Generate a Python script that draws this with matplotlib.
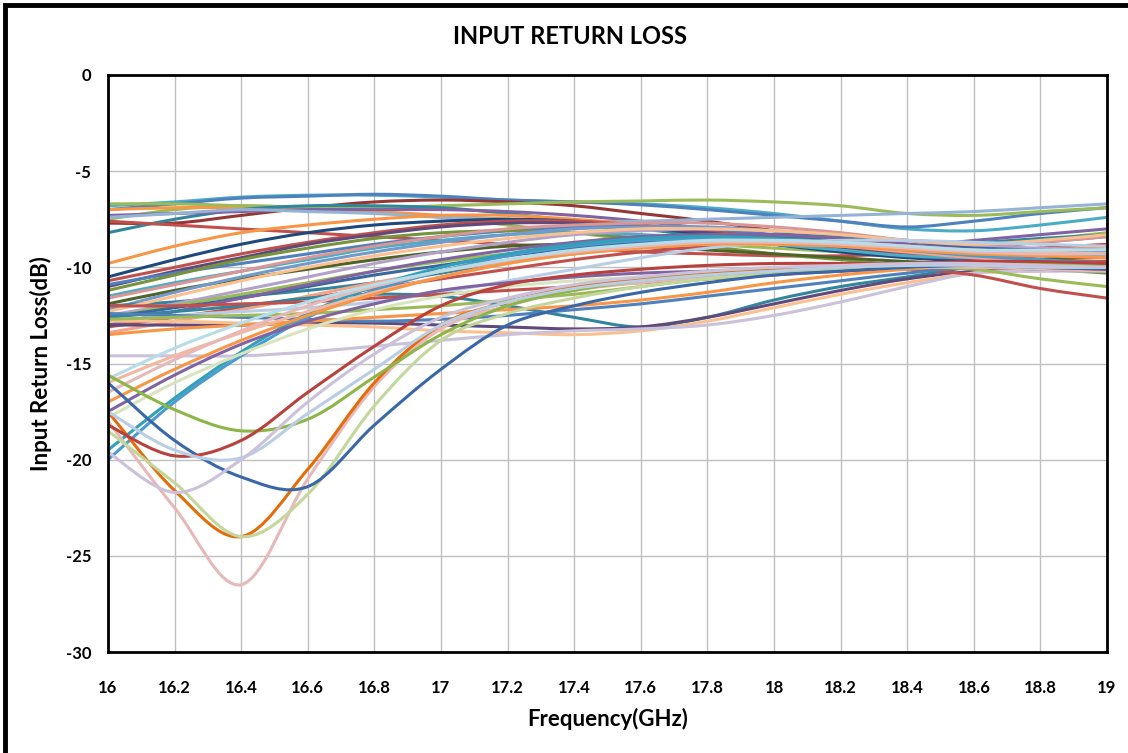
import matplotlib
matplotlib.use('Agg')
import matplotlib.pyplot as plt
import numpy as np
from matplotlib.path import Path
from matplotlib.patches import PathPatch, Rectangle

# frequency points of each sweep (GHz)
freq = [16.0, 16.2, 16.4, 16.6, 16.8, 17.0, 17.2, 17.4,
        17.6, 17.8, 18.0, 18.2, 18.4, 18.6, 18.8, 19.0]

# best matched units, flat near -7 dB
top_curves = [
    [-6.8, -6.6, -6.35, -6.25, -6.25, -6.35, -6.5, -6.6, -6.7, -6.9, -7.2, -7.6, -8.0, -8.1, -7.8, -7.4],
    [-7.0, -6.7, -6.4, -6.3, -6.2, -6.3, -6.5, -6.6, -6.75, -7.0, -7.3, -7.6, -7.9, -7.6, -7.2, -6.9],
    [-7.7, -7.7, -7.3, -6.9, -6.6, -6.5, -6.6, -6.8, -7.2, -7.6, -8.1, -8.6, -9.0, -9.2, -9.4, -9.5],
    [-7.5, -7.0, -6.8, -6.9, -7.1, -7.4, -7.8, -8.2, -8.6, -8.8, -9.0, -9.2, -9.4, -9.1, -8.6, -8.2],
    [-7.0, -6.9, -6.9, -7.0, -7.1, -7.3, -7.5, -7.7, -7.9, -8.2, -8.5, -8.9, -9.3, -9.6, -9.8, -10.0],
    [-6.7, -6.7, -6.8, -6.9, -6.9, -6.8, -6.7, -6.6, -6.55, -6.5, -6.6, -6.8, -7.2, -7.3, -7.1, -6.9],
    [-8.2, -7.5, -7.0, -6.8, -6.8, -6.9, -7.2, -7.6, -8.0, -8.4, -8.8, -9.1, -9.3, -9.0, -8.7, -8.4],
    [-7.3, -7.2, -7.1, -7.0, -7.0, -7.0, -7.1, -7.3, -7.6, -8.0, -8.4, -8.7, -8.9, -8.6, -8.3, -8.0],
    [-7.6, -7.8, -8.0, -8.2, -8.4, -8.6, -8.8, -9.0, -9.2, -9.3, -9.4, -9.4, -9.3, -9.2, -9.0, -8.8],
    [-7.4, -7.2, -7.0, -7.1, -7.2, -7.4, -7.5, -7.6, -7.6, -7.5, -7.4, -7.3, -7.2, -7.1, -6.9, -6.7],
]
top_colors = ['#4BACC6', '#4F81BD', '#953735', '#9BBB59', '#F79646',
              '#9BBB59', '#31859C', '#8064A2', '#C0504D', '#95B3D7']

# units improving with frequency
mid_curves = [
    [-9.8, -8.9, -8.2, -7.8, -7.5, -7.3, -7.3, -7.5, -7.8, -8.2, -8.6, -9.0, -9.3, -9.5, -9.2, -8.9],
    [-10.5, -9.6, -8.8, -8.2, -7.8, -7.6, -7.5, -7.6, -7.9, -8.3, -8.8, -9.2, -9.5, -9.7, -9.9, -10.0],
    [-10.7, -10.0, -9.3, -8.7, -8.2, -7.8, -7.6, -7.6, -7.8, -8.1, -8.5, -8.9, -9.3, -9.5, -9.6, -9.7],
    [-11.0, -10.2, -9.5, -8.8, -8.3, -7.9, -7.7, -7.7, -7.9, -8.2, -8.6, -9.0, -9.4, -9.6, -9.8, -9.9],
    [-10.9, -10.3, -9.8, -9.3, -8.8, -8.4, -8.1, -7.9, -7.9, -8.0, -8.3, -8.6, -8.9, -9.1, -9.3, -9.4],
    [-11.2, -10.4, -9.6, -9.0, -8.5, -8.2, -8.1, -8.2, -8.5, -8.9, -9.3, -9.6, -9.9, -10.0, -10.1, -10.3],
    [-11.5, -10.8, -10.2, -9.6, -9.0, -8.6, -8.3, -8.2, -8.3, -8.5, -8.8, -9.1, -9.4, -9.5, -9.4, -9.2],
    [-11.9, -11.2, -10.6, -10.1, -9.6, -9.2, -8.9, -8.8, -8.9, -9.1, -9.3, -9.5, -9.7, -9.8, -9.6, -9.4],
    [-11.6, -10.9, -10.2, -9.5, -8.9, -8.4, -8.0, -7.8, -7.7, -7.7, -7.9, -8.2, -8.6, -8.9, -8.7, -8.4],
    [-12.2, -11.3, -10.5, -9.8, -9.2, -8.7, -8.3, -8.0, -7.9, -7.9, -8.1, -8.4, -8.8, -9.1, -9.2, -9.3],
    [-12.0, -11.8, -11.5, -11.2, -10.8, -10.3, -9.7, -9.1, -8.7, -8.4, -8.3, -8.4, -8.6, -8.7, -8.5, -8.3],
    [-12.5, -11.9, -11.2, -10.5, -9.8, -9.2, -8.7, -8.3, -8.1, -8.0, -8.1, -8.3, -8.6, -8.9, -9.0, -9.1],
    [-12.6, -12.0, -11.4, -10.8, -10.2, -9.7, -9.3, -9.0, -8.8, -8.7, -8.7, -8.8, -9.0, -9.2, -9.3, -9.4],
    [-12.3, -11.5, -10.7, -10.0, -9.4, -8.9, -8.5, -8.2, -8.0, -8.0, -8.1, -8.3, -8.6, -8.8, -8.6, -8.3],
    [-12.6, -12.1, -11.6, -11.0, -10.4, -9.9, -9.4, -9.0, -8.7, -8.5, -8.5, -8.6, -8.8, -9.0, -9.1, -9.2],
    [-13.0, -12.3, -11.6, -10.9, -10.2, -9.6, -9.1, -8.7, -8.4, -8.3, -8.3, -8.5, -8.8, -9.1, -9.3, -9.5],
    [-13.1, -12.6, -12.1, -11.6, -11.1, -10.6, -10.1, -9.6, -9.2, -8.9, -8.7, -8.7, -8.9, -9.2, -9.6, -10.0],
    [-13.4, -12.8, -12.2, -11.5, -10.8, -10.2, -9.7, -9.3, -9.0, -8.8, -8.8, -8.9, -9.2, -9.5, -9.7, -9.9],
    [-12.8, -12.5, -12.3, -12.1, -11.8, -11.3, -10.7, -10.1, -9.5, -9.0, -8.7, -8.6, -8.6, -8.7, -8.8, -8.9],
]
mid_colors = ['#F79646', '#1F497D', '#C0504D', '#604A7B', '#4F81BD', '#77933C',
              '#4BACC6', '#4F6228', '#D99694', '#729ACA', '#31859C', '#B3A2C7',
              '#9BBB59', '#FAC090', '#3A679C', '#8064A2', '#C0504D', '#F2A48A',
              '#B9CDE5']

# flat responses around -13 dB up to 17.6 GHz
low_curves = [
    [-12.6, -12.3, -12.0, -11.6, -11.4, -11.5, -12.0, -12.6, -13.1, -12.6, -11.7, -11.0, -10.5, -10.0, -10.1, -10.2],
    [-13.0, -13.0, -13.0, -12.9, -12.9, -13.0, -13.1, -13.2, -13.1, -12.6, -11.9, -11.2, -10.6, -10.2, -10.0, -10.0],
    [-12.8, -12.8, -12.9, -13.0, -13.1, -13.3, -13.4, -13.5, -13.3, -12.8, -12.1, -11.4, -10.8, -10.3, -10.2, -10.1],
    [-14.6, -14.6, -14.6, -14.4, -14.1, -13.8, -13.5, -13.3, -13.2, -13.0, -12.5, -11.8, -11.0, -10.3, -10.2, -10.2],
    [-12.0, -12.0, -11.9, -11.8, -11.6, -11.4, -11.2, -11.0, -10.8, -10.6, -10.4, -10.2, -10.1, -10.4, -11.1, -11.6],
    [-12.4, -12.5, -12.6, -12.7, -12.8, -12.7, -12.5, -12.2, -11.9, -11.5, -11.1, -10.7, -10.3, -10.0, -10.1, -10.2],
    [-13.5, -13.2, -13.0, -12.8, -12.6, -12.4, -12.2, -12.0, -11.7, -11.3, -10.8, -10.4, -10.1, -9.9, -10.0, -10.1],
    [-12.7, -12.6, -12.5, -12.4, -12.2, -12.0, -11.7, -11.4, -11.0, -10.6, -10.3, -10.1, -10.0, -10.1, -10.6, -11.0],
]
low_colors = ['#31859C', '#604A7B', '#FAC090', '#CCC1DA', '#C0504D',
              '#4F81BD', '#F79646', '#9BBB59']

# poor match at the low band edge
steep_curves = [
    [-20.0, -17.0, -14.6, -12.6, -11.2, -10.2, -9.4, -8.9, -8.6, -8.5, -8.6, -8.8, -9.1, -9.4, -9.6, -9.8],
    [-19.5, -16.8, -14.4, -12.4, -11.0, -10.0, -9.3, -8.8, -8.5, -8.4, -8.5, -8.7, -9.0, -9.2, -9.3, -9.4],
    [-16.0, -14.6, -13.4, -12.3, -11.3, -10.5, -9.8, -9.3, -8.9, -8.7, -8.6, -8.7, -8.9, -9.1, -9.2, -9.3],
    [-17.0, -15.3, -13.8, -12.5, -11.4, -10.5, -9.8, -9.3, -9.0, -8.8, -8.8, -8.9, -9.1, -9.3, -9.4, -9.5],
    [-17.5, -15.6, -14.0, -12.8, -11.9, -11.2, -10.8, -10.5, -10.3, -10.2, -10.1, -10.0, -9.9, -9.9, -10.0, -10.1],
    [-17.8, -16.0, -14.5, -13.2, -12.2, -11.5, -11.0, -10.7, -10.5, -10.3, -10.2, -10.1, -10.0, -9.9, -9.9, -9.9],
    [-16.5, -14.8, -13.3, -12.0, -11.0, -10.2, -9.6, -9.2, -8.9, -8.7, -8.7, -8.8, -9.0, -9.2, -9.3, -9.3],
    [-15.8, -14.2, -12.9, -11.8, -10.9, -10.2, -9.6, -9.1, -8.8, -8.6, -8.6, -8.7, -8.9, -9.1, -9.1, -9.1],
]
steep_colors = ['#4A9BD0', '#31A0B8', '#F2B8A0', '#F79646', '#8064A2',
                '#D7E4BD', '#E6B9B8', '#B7DEE8']

# units with a resonance dip near 16.4 GHz
dip_curves = [
    [-18.0, -22.5, -26.5, -21.0, -16.2, -13.2, -12.0, -11.2, -10.8, -10.5, -10.3, -10.1, -10.0, -10.0, -10.1, -10.2],
    [-17.5, -21.6, -24.0, -20.5, -16.0, -13.0, -11.8, -11.0, -10.6, -10.3, -10.1, -10.0, -9.9, -9.9, -10.0, -10.1],
    [-18.5, -21.2, -24.0, -21.8, -17.2, -13.8, -12.4, -11.6, -11.0, -10.6, -10.3, -10.1, -10.0, -9.9, -10.0, -10.0],
    [-16.0, -19.0, -20.9, -21.4, -18.2, -15.3, -13.0, -12.0, -11.3, -10.8, -10.4, -10.2, -10.0, -9.9, -10.0, -10.1],
    [-15.6, -17.4, -18.5, -17.9, -15.7, -13.5, -12.0, -11.2, -10.7, -10.4, -10.2, -10.0, -9.9, -9.8, -9.8, -9.9],
    [-18.2, -19.8, -19.0, -16.5, -14.1, -12.0, -10.9, -10.4, -10.1, -9.9, -9.8, -9.8, -9.8, -9.7, -9.7, -9.8],
    [-17.5, -19.5, -19.9, -17.6, -15.3, -13.0, -11.8, -11.1, -10.7, -10.4, -10.2, -10.0, -9.9, -9.9, -10.0, -10.0],
    [-19.6, -21.7, -20.0, -17.0, -14.5, -12.6, -11.6, -10.9, -10.5, -10.2, -10.0, -9.9, -9.8, -9.8, -9.9, -10.0],
]
dip_colors = ['#E6B9B8', '#E46C0A', '#C3D69B', '#3A67A8', '#8DB548',
              '#B8403D', '#B9CDE5', '#CCC1DA']

curves = top_curves + mid_curves + low_curves + steep_curves + dip_curves
colors = top_colors + mid_colors + low_colors + steep_colors + dip_colors


def smooth_path(xs, ys):
    # cubic bezier through the points, like a spreadsheet "smoothed line"
    pts = np.column_stack([xs, ys]).astype(float)
    ext = np.vstack([pts[0], pts, pts[-1]])
    verts = [pts[0]]
    codes = [Path.MOVETO]
    for i in range(len(pts) - 1):
        p0, p1, p2, p3 = ext[i], ext[i + 1], ext[i + 2], ext[i + 3]
        verts += [p1 + (p2 - p0) / 6, p2 - (p3 - p1) / 6, p2]
        codes += [Path.CURVE4] * 3
    return Path(verts, codes)


plt.rcParams['font.family'] = ['Lato', 'DejaVu Sans']
plt.rcParams['font.weight'] = 'bold'
plt.rcParams['axes.unicode_minus'] = False

fig = plt.figure(figsize=(11.28, 7.53), dpi=100)
ax = fig.add_axes([0.0957, 0.1341, 0.8857, 0.7663])

for ys, c in zip(curves, colors):
    ax.add_patch(PathPatch(smooth_path(freq, ys), fill=False, edgecolor=c,
                           linewidth=2.2, zorder=3))

ax.set_xlim(16, 19)
ax.set_ylim(-30, 0)
ax.set_xticks(freq)
ax.set_xticklabels(['%g' % f for f in freq])
ax.set_yticks([0, -5, -10, -15, -20, -25, -30])
ax.grid(True, color='#BFBFBF', linewidth=1.0, zorder=0)
ax.tick_params(length=0, labelsize=12)
ax.tick_params(axis='x', pad=20)
ax.tick_params(axis='y', pad=12)
for s in ax.spines.values():
    s.set_linewidth(2.0)
    s.set_color('black')
    s.set_zorder(5)

ax.set_xlabel('Frequency(GHz)', fontsize=16, fontweight='bold')
ax.set_ylabel('Input Return Loss(dB)', fontsize=16, fontweight='bold')
ax.xaxis.set_label_coords(0.5, -0.097)
ax.yaxis.set_label_coords(-0.056, 0.5)
fig.text(0.505, 0.952, 'INPUT RETURN LOSS', ha='center', va='center',
         fontsize=17, fontweight='bold')

# outer chart frame
fig.patches.append(Rectangle((0.004, -0.02), 1.05, 1.0135, transform=fig.transFigure,
                             fill=False, edgecolor='black', linewidth=3.5))

fig.savefig('out.png', dpi=100)
